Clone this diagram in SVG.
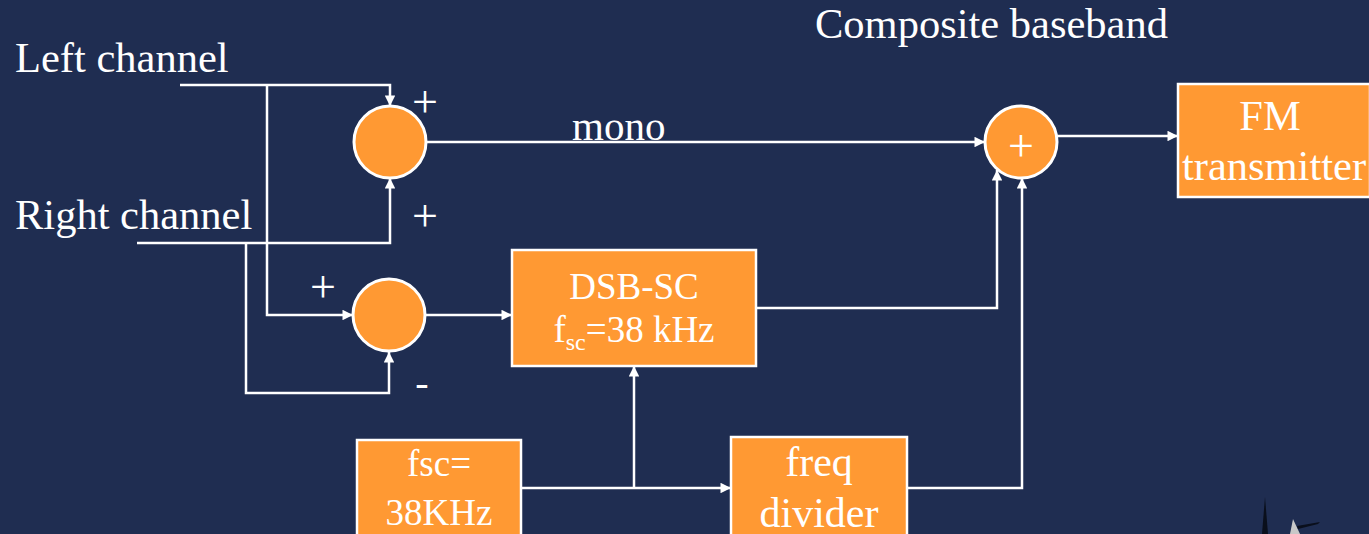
<svg xmlns="http://www.w3.org/2000/svg" width="1369" height="534" viewBox="0 0 1369 534">
<style>
.t{font-family:"Liberation Serif","Times New Roman",serif;fill:#fff}
.p{font-size:46px;text-anchor:middle}
.c{stroke:#fff;stroke-width:2.5;fill:none}
.n{fill:#FF9933;stroke:#fff;stroke-width:3}
.b{fill:#FF9933;stroke:#fff;stroke-width:2.5}
</style>
<defs>
<marker id="ah" viewBox="0 0 10 10" refX="10" refY="5" markerWidth="4.6" markerHeight="4.2" orient="auto" markerUnits="strokeWidth">
<path d="M0,0 L10,5 L0,10 z" fill="#fff"/>
</marker>
</defs>
<rect x="0" y="0" width="1369" height="534" fill="#1F2D51"/>
<text class="t" x="815" y="38" font-size="42.5">Composite baseband</text>
<text class="t" x="15" y="72" font-size="42.5">Left channel</text>
<text class="t" x="15" y="229" font-size="42.5">Right channel</text>
<text class="t" x="572" y="140" font-size="41">mono</text>
<g id="connectors" class="c">
<path d="M180,85 H390 V106" marker-end="url(#ah)"/>
<path d="M267,85 V315 H353" marker-end="url(#ah)"/>
<path d="M137,243 H390 V178" marker-end="url(#ah)"/>
<path d="M246,243 V393 H389 V352" marker-end="url(#ah)"/>
<path d="M426,142 H985" marker-end="url(#ah)"/>
<path d="M426,315 H512" marker-end="url(#ah)"/>
<path d="M756,308 H997 V170" marker-end="url(#ah)"/>
<path d="M521,488 H731" marker-end="url(#ah)"/>
<path d="M634,488 V366" marker-end="url(#ah)"/>
<path d="M907,488 H1022 V178" marker-end="url(#ah)"/>
<path d="M1058,136 H1178" marker-end="url(#ah)"/>
</g>
<g id="sum1">
<circle class="n" cx="390" cy="142" r="36"/>
<text class="t p" x="425" y="117">+</text>
<text class="t p" x="425" y="231">+</text>
</g>
<g id="sum2">
<circle class="n" cx="389" cy="315" r="36"/>
<text class="t p" x="323" y="302">+</text>
<text class="t" x="422" y="396" font-size="40" text-anchor="middle">-</text>
</g>
<g id="sum3">
<circle class="n" cx="1021" cy="142" r="36"/>
<text class="t p" x="1021" y="161">+</text>
</g>
<g id="fm">
<rect class="b" x="1178" y="84" width="192" height="113"/>
<text class="t" x="1270" y="130" font-size="42.5" text-anchor="middle">FM</text>
<text class="t" x="1274" y="180" font-size="42.5" text-anchor="middle">transmitter</text>
</g>
<g id="dsb">
<rect class="b" x="512" y="250" width="244" height="116"/>
<text class="t" x="634" y="299" font-size="37" text-anchor="middle">DSB-SC</text>
<text class="t" x="634" y="342" font-size="37" text-anchor="middle">f<tspan font-size="24" dy="8">sc</tspan><tspan dy="-8">=38 kHz</tspan></text>
</g>
<g id="fsc">
<rect class="b" x="357" y="440" width="164" height="100"/>
<text class="t" x="439" y="476" font-size="37" text-anchor="middle">fsc=</text>
<text class="t" x="439" y="525" font-size="37" text-anchor="middle">38KHz</text>
</g>
<g id="divider">
<rect class="b" x="731" y="437" width="176" height="100"/>
<text class="t" x="819" y="476" font-size="42" text-anchor="middle">freq</text>
<text class="t" x="819" y="527" font-size="42" text-anchor="middle">divider</text>
</g>
<g id="artifact">
<polygon points="1265,497 1268,534 1262,534" fill="#0a0f1c"/>
<polygon points="1293,519 1300,534 1290,534" fill="#c8c8c8"/>
<polygon points="1297,526 1320,522 1318,524 1298,529" fill="#0a0f1c"/>
</g>
</svg>
